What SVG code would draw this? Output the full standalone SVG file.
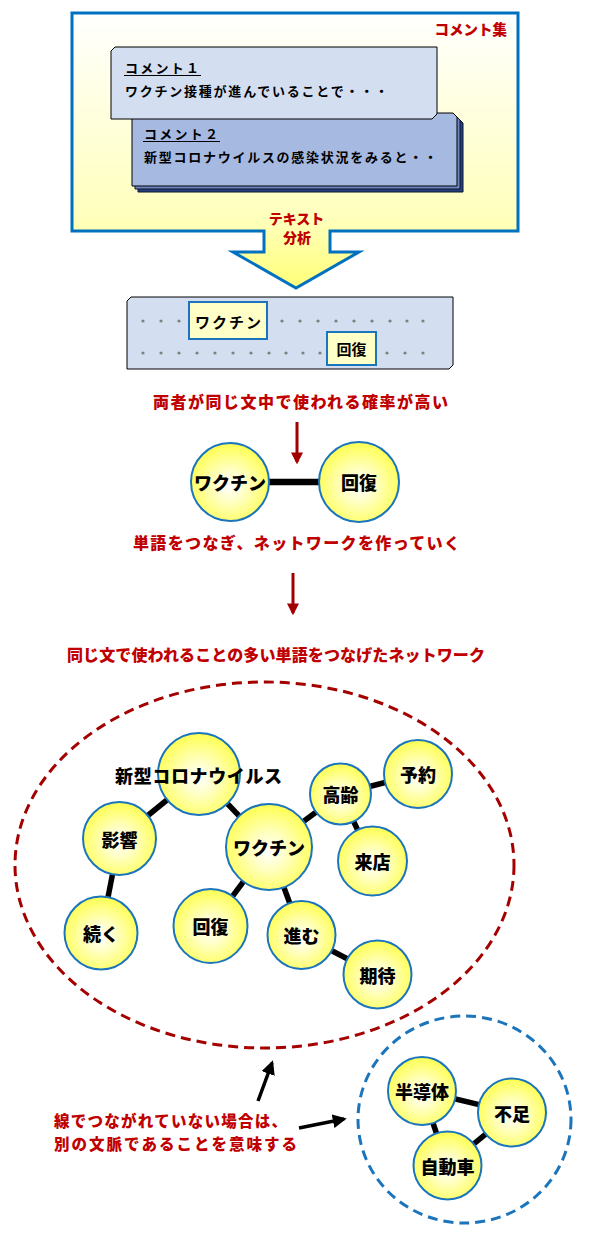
<svg xmlns="http://www.w3.org/2000/svg" width="600" height="1240" viewBox="0 0 600 1240">
<style>
.red{fill:#C00000;font-family:"Noto Sans CJK JP","Noto Sans",sans-serif;font-weight:900;}
.cm{fill:#000;font-family:"Noto Sans CJK JP","Noto Sans",sans-serif;font-size:13px;font-weight:700;}
.node circle{fill:url(#ng);stroke:#1B75BC;stroke-width:2;}
.node text{fill:#000;font-family:"Noto Sans CJK JP","Noto Sans",sans-serif;font-weight:900;font-size:18px;text-anchor:middle;dominant-baseline:central;}
.edge{stroke:#000;stroke-width:5.5;}
.edge.thick{stroke-width:6.5;}
.dot{fill:#7F7F7F;}
.wbox{fill:#FFFFC8;stroke:#1B75BC;stroke-width:2;}
.wtxt{fill:#000;font-family:"Noto Sans CJK JP","Noto Sans",sans-serif;font-size:15px;font-weight:700;text-anchor:middle;dominant-baseline:central;}
</style>
<defs>
<linearGradient id="bg" x1="0" y1="0" x2="0" y2="1">
<stop offset="0" stop-color="#FFFFFF"/>
<stop offset="0.75" stop-color="#FFFFBC"/>
<stop offset="1" stop-color="#FFFF78"/>
</linearGradient>
<radialGradient id="ng" cx="0.5" cy="0.55" r="0.55">
<stop offset="0" stop-color="#FFFFFF"/>
<stop offset="0.35" stop-color="#FFFFC8"/>
<stop offset="1" stop-color="#FFFF50"/>
</radialGradient>
<marker id="ar" viewBox="0 0 10 10" refX="8" refY="5" markerWidth="4" markerHeight="4" orient="auto" markerUnits="strokeWidth">
<path d="M0,0 L10,5 L0,10 Z" fill="#A00000"/>
</marker>
<marker id="ab" viewBox="0 0 10 10" refX="8" refY="5" markerWidth="4" markerHeight="4" orient="auto" markerUnits="strokeWidth">
<path d="M0,0 L10,5 L0,10 Z" fill="#000"/>
</marker>
</defs>
<rect width="600" height="1240" fill="#FFFFFF"/>

<g id="comments">
<path d="M72,13 H518 V231 H330 V252 H359 L296,288 L233,252 H264 V231 H72 Z" fill="url(#bg)" stroke="#0070C0" stroke-width="3" stroke-linejoin="miter"/>
<text class="red" x="507" y="35" font-size="14.5" text-anchor="end">コメント集</text>
</g>

<g id="comment2">
<path d="M138,119 H459 L463,123 V192 H138 Z" fill="#27407A" stroke="#0A1530" stroke-width="1"/>
<path d="M135,116 H456 L460,120 V189 H135 Z" fill="#6E86BE" stroke="#0A1530" stroke-width="1"/>
<path d="M132,113 H453 L457,117 V186 H132 Z" fill="#A6B9E1" stroke="#000" stroke-width="1"/>
<text class="cm" x="144" y="139" textLength="74" lengthAdjust="spacing">コメント２</text>
<line x1="143" y1="141.5" x2="220" y2="141.5" stroke="#000" stroke-width="1"/>
<text class="cm" x="144" y="162" textLength="293" lengthAdjust="spacing">新型コロナウイルスの感染状況をみると・・</text>
</g>

<g id="comment1">
<path d="M115,47 H437 V114 L432,119 H111 V51 Z" fill="#D3DEF1" stroke="#000" stroke-width="1"/>
<text class="cm" x="125" y="73" textLength="74" lengthAdjust="spacing">コメント１</text>
<line x1="124" y1="75.5" x2="201" y2="75.5" stroke="#000" stroke-width="1"/>
<text class="cm" x="125" y="96" textLength="263" lengthAdjust="spacing">ワクチン接種が進んでいることで・・・</text>
</g>

<g id="analysis-label">
<text class="red" x="296.5" y="224" font-size="14" text-anchor="middle">テキスト</text>
<text class="red" x="297" y="243" font-size="14" text-anchor="middle">分析</text>
</g>

<g id="sentence">
<path d="M131,297 H453 V365 L449,369 H127 V301 Z" fill="#D3DEF1" stroke="#000" stroke-width="1"/>
<g class="dots">
<circle class="dot" cx="143" cy="321" r="1.6"/><circle class="dot" cx="161" cy="321" r="1.6"/><circle class="dot" cx="179" cy="321" r="1.6"/>
<circle class="dot" cx="282" cy="321" r="1.6"/><circle class="dot" cx="300" cy="321" r="1.6"/><circle class="dot" cx="318" cy="321" r="1.6"/><circle class="dot" cx="336" cy="321" r="1.6"/><circle class="dot" cx="354" cy="321" r="1.6"/><circle class="dot" cx="372" cy="321" r="1.6"/><circle class="dot" cx="390" cy="321" r="1.6"/><circle class="dot" cx="407" cy="321" r="1.6"/><circle class="dot" cx="423" cy="321" r="1.6"/>
<circle class="dot" cx="143" cy="353" r="1.6"/><circle class="dot" cx="161" cy="353" r="1.6"/><circle class="dot" cx="179" cy="353" r="1.6"/><circle class="dot" cx="197" cy="353" r="1.6"/><circle class="dot" cx="215" cy="353" r="1.6"/><circle class="dot" cx="233" cy="353" r="1.6"/><circle class="dot" cx="251" cy="353" r="1.6"/><circle class="dot" cx="269" cy="353" r="1.6"/><circle class="dot" cx="286" cy="353" r="1.6"/><circle class="dot" cx="303" cy="353" r="1.6"/><circle class="dot" cx="320" cy="353" r="1.6"/>
<circle class="dot" cx="387" cy="353" r="1.6"/><circle class="dot" cx="405" cy="353" r="1.6"/><circle class="dot" cx="423" cy="353" r="1.6"/>
</g>
<rect class="wbox" x="189" y="302" width="78" height="37"/>
<text class="wtxt" x="228" y="321" textLength="66" lengthAdjust="spacing">ワクチン</text>
<rect class="wbox" x="327" y="332" width="49" height="33"/>
<text class="wtxt" x="351.5" y="348.5">回復</text>
</g>

<g id="captions">
<text class="red" x="300.5" y="408" font-size="16" text-anchor="middle" textLength="295" lengthAdjust="spacing">両者が同じ文中で使われる確率が高い</text>
<text class="red" x="296.5" y="549" font-size="16" text-anchor="middle" textLength="327" lengthAdjust="spacing">単語をつなぎ、ネットワークを作っていく</text>
<text class="red" x="276" y="661" font-size="16" text-anchor="middle" textLength="418" lengthAdjust="spacing">同じ文で使われることの多い単語をつなげたネットワーク</text>
<text class="red" x="54" y="1127" font-size="15.5" textLength="233" lengthAdjust="spacing">線でつながれていない場合は、</text>
<text class="red" x="54" y="1150" font-size="15.5" textLength="243" lengthAdjust="spacing">別の文脈であることを意味する</text>
</g>

<g id="groups">
<ellipse cx="264.5" cy="865" rx="249.5" ry="183" fill="none" stroke="#A50000" stroke-width="3" stroke-dasharray="10 6"/>
<ellipse cx="464.5" cy="1119.5" rx="106.5" ry="103.5" fill="none" stroke="#1B75BC" stroke-width="3" stroke-dasharray="10 6"/>
</g>

<g id="connectors">
<line x1="297" y1="422" x2="297" y2="462" stroke="#A00000" stroke-width="3" marker-end="url(#ar)"/>
<line x1="293" y1="573" x2="293" y2="613" stroke="#A00000" stroke-width="3" marker-end="url(#ar)"/>
<line x1="258" y1="1101" x2="272" y2="1063" stroke="#000" stroke-width="3.5" marker-end="url(#ab)"/>
<line x1="299" y1="1128" x2="344" y2="1119" stroke="#000" stroke-width="3.5" marker-end="url(#ab)"/>
<line class="edge thick" x1="230" y1="482" x2="359" y2="482"/>
<line class="edge" x1="199" y1="774" x2="119.5" y2="838.5"/>
<line class="edge" x1="199" y1="774" x2="269" y2="847"/>
<line class="edge" x1="119.5" y1="838.5" x2="101" y2="933"/>
<line class="edge" x1="269" y1="847" x2="340.5" y2="794"/>
<line class="edge" x1="269" y1="847" x2="210.5" y2="926"/>
<line class="edge" x1="269" y1="847" x2="301.5" y2="935"/>
<line class="edge" x1="340.5" y1="794" x2="418" y2="774"/>
<line class="edge" x1="340.5" y1="794" x2="372.5" y2="861"/>
<line class="edge" x1="301.5" y1="935" x2="377.5" y2="974.5"/>
<line class="edge" x1="422" y1="1091" x2="512" y2="1112.5"/>
<line class="edge" x1="422" y1="1091" x2="447.5" y2="1165.5"/>
<line class="edge" x1="512" y1="1112.5" x2="447.5" y2="1165.5"/>
</g>

<g id="n-vaccine-small" class="node"><circle cx="230" cy="482" r="39"/><text x="230" y="482">ワクチン</text></g>
<g id="n-recovery-small" class="node"><circle cx="359" cy="482" r="40"/><text x="359" y="482">回復</text></g>

<g id="n-corona" class="node"><circle cx="199" cy="774" r="41"/><text x="198.5" y="775" textLength="167" lengthAdjust="spacing">新型コロナウイルス</text></g>
<g id="n-eikyo" class="node"><circle cx="119.5" cy="838.5" r="36.5"/><text x="119.5" y="838.5">影響</text></g>
<g id="n-tsuzuku" class="node"><circle cx="101" cy="933" r="36.5"/><text x="101" y="933">続く</text></g>
<g id="n-vaccine" class="node"><circle cx="269" cy="847" r="43"/><text x="269" y="847">ワクチン</text></g>
<g id="n-kaifuku" class="node"><circle cx="210.5" cy="926" r="37"/><text x="210.5" y="926">回復</text></g>
<g id="n-susumu" class="node"><circle cx="301.5" cy="935" r="34"/><text x="301.5" y="935">進む</text></g>
<g id="n-kitai" class="node"><circle cx="377.5" cy="974.5" r="34"/><text x="377.5" y="974.5">期待</text></g>
<g id="n-korei" class="node"><circle cx="340.5" cy="794" r="30.5"/><text x="340.5" y="794">高齢</text></g>
<g id="n-yoyaku" class="node"><circle cx="418" cy="774" r="34"/><text x="418" y="774">予約</text></g>
<g id="n-raiten" class="node"><circle cx="372.5" cy="861" r="34.5"/><text x="372.5" y="861">来店</text></g>
<g id="n-handotai" class="node"><circle cx="422" cy="1091" r="34"/><text x="422" y="1091">半導体</text></g>
<g id="n-fusoku" class="node"><circle cx="512" cy="1112.5" r="34"/><text x="512" y="1112.5">不足</text></g>
<g id="n-jidosha" class="node"><circle cx="447.5" cy="1165.5" r="34"/><text x="447.5" y="1165.5">自動車</text></g>
</svg>
